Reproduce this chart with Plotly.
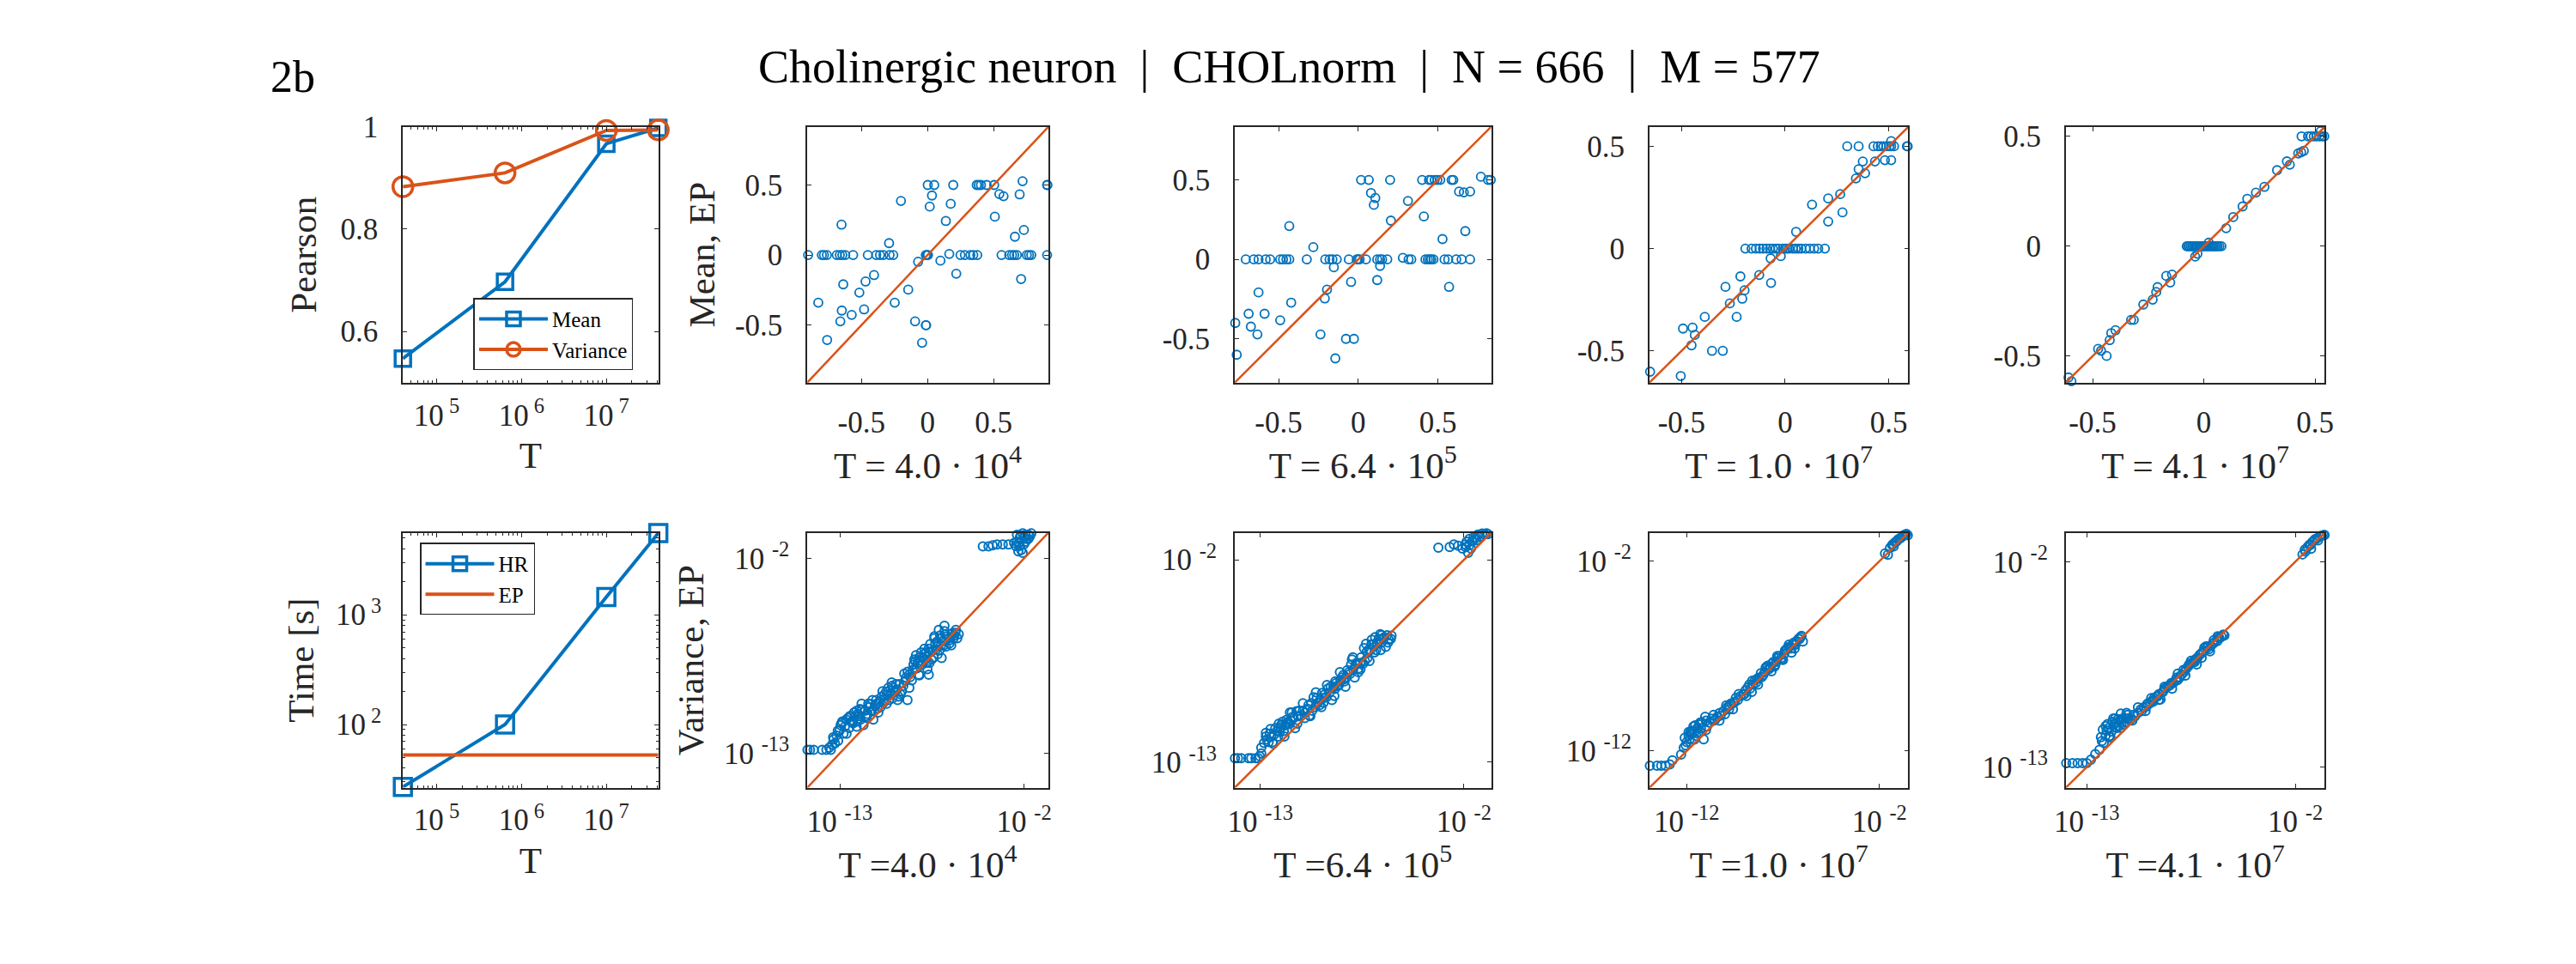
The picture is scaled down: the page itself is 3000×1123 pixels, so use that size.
import plotly.graph_objects as go

# ---------------- data ----------------
T_vals = [4.0e4, 6.4e5, 1.0e7, 4.1e7]
pearson_mean = [0.547, 0.697, 0.967, 0.998]
pearson_var = [0.883, 0.910, 0.993, 0.994]
time_hr = [27, 100, 1450, 5560]
time_ep = [52.8, 52.8]

mean_titles = ["T = 4.0 · 10<sup>4</sup>", "T = 6.4 · 10<sup>5</sup>",
               "T = 1.0 · 10<sup>7</sup>", "T = 4.1 · 10<sup>7</sup>"]
var_titles = ["T =4.0 · 10<sup>4</sup>", "T =6.4 · 10<sup>5</sup>",
              "T =1.0 · 10<sup>7</sup>", "T =4.1 · 10<sup>7</sup>"]

# axis limits of the scatter panels (mean: linear, variance: log10)
mean_lims = [[-0.91, 0.915], [-0.775, 0.834], [-0.655, 0.595], [-0.62, 0.543]]
var_lims = [[-14.94, -0.55], [-14.38, -0.53], [-13.93, -0.50], [-14.1, -0.45]]
var_ticks = [[-13, -2], [-13, -2], [-12, -2], [-13, -2]]

# ---- Mean scatter, T = 4.0e4 ----
m1_x = [-0.904, -0.800, -0.784, -0.762, -0.687, -0.664, -0.645, -0.623, -0.563, -0.452,
        -0.388, -0.360, -0.334, -0.287, -0.259, -0.013, -0.004, 0.004, 0.250, 0.283,
        0.325, 0.347, 0.377, 0.561, 0.619, 0.640, 0.657, 0.677, 0.752, 0.769,
        0.786, 0.906, 0.165,
        0.002, 0.051, 0.195, 0.373, 0.388, 0.405, 0.448, 0.505, 0.908, 0.906,
        -0.201, 0.034, 0.017, 0.176, 0.139, -0.651, -0.291, 0.510, 0.544, 0.576,
        0.698, 0.720, 0.730, 0.662,
        -0.071, 0.098, 0.218, 0.709, -0.405, -0.469, -0.638, -0.516, -0.146, -0.827,
        -0.248, -0.649, -0.480, -0.574, -0.660, -0.094, -0.013, -0.010, -0.760, -0.041]
m1_y = [0.0, 0.0, 0.0, 0.0, 0.0, 0.0, 0.0, 0.0, 0.0, 0.0,
        0.0, 0.0, 0.0, 0.0, 0.0, 0.0, 0.0, 0.0, 0.0, 0.0,
        0.0, 0.0, 0.0, 0.0, 0.0, 0.0, 0.0, 0.0, 0.0, 0.0,
        0.0, 0.0, 0.008,
        0.5, 0.5, 0.5, 0.5, 0.5, 0.5, 0.5, 0.5, 0.5, 0.5,
        0.386, 0.425, 0.346, 0.366, 0.243, 0.217, 0.085, 0.274, 0.435, 0.420,
        0.433, 0.527, 0.179, 0.131,
        -0.048, -0.040, -0.133, -0.171, -0.143, -0.189, -0.209, -0.268, -0.247, -0.340,
        -0.340, -0.396, -0.388, -0.427, -0.473, -0.473, -0.501, -0.501, -0.606, -0.626]

# ---- Mean scatter, T = 6.4e5 ----
m2_x = [-0.706, -0.656, -0.626, -0.581, -0.553, -0.490, -0.472, -0.451, -0.433, -0.323,
        -0.207, -0.180, -0.162, -0.135, -0.059, -0.009, 0.000, 0.009, 0.048, 0.119,
        0.137, 0.150, 0.182, 0.280, 0.316, 0.333, 0.422, 0.437, 0.449, 0.458,
        0.472, 0.542, 0.565, 0.615, 0.649, 0.702,
        0.018, 0.066, 0.200, 0.401, 0.444, 0.458, 0.480, 0.497, 0.515, 0.586,
        0.597, 0.815, 0.832,
        0.770, 0.080, 0.107, 0.098, 0.312, 0.633, 0.663, 0.702, 0.205, 0.412,
        -0.433, -0.282, 0.529, 0.672, -0.153, 0.137, -0.045, 0.119, 0.570, -0.196,
        -0.210, -0.626, -0.421, -0.688, -0.588, -0.490, -0.772, -0.674, -0.633, -0.237,
        -0.077, -0.027, -0.763, -0.144]
m2_y = [0.0, 0.0, 0.0, 0.0, 0.0, 0.0, 0.0, 0.0, 0.0, 0.0,
        0.0, 0.0, 0.0, 0.0, 0.0, 0.0, 0.0, 0.0, 0.0, 0.0,
        0.0, 0.0, 0.0, 0.010, 0.0, 0.0, 0.0, 0.0, 0.0, 0.0,
        0.0, 0.0, 0.0, 0.0, 0.0, 0.0,
        0.5, 0.5, 0.5, 0.5, 0.5, 0.5, 0.5, 0.5, 0.5, 0.5,
        0.5, 0.5, 0.5,
        0.520, 0.418, 0.386, 0.343, 0.368, 0.427, 0.422, 0.427, 0.244, 0.270,
        0.210, 0.077, 0.128, 0.178, -0.050, -0.041, -0.142, -0.130, -0.173, -0.190,
        -0.246, -0.208, -0.272, -0.342, -0.342, -0.383, -0.400, -0.423, -0.472, -0.472,
        -0.500, -0.500, -0.600, -0.623]

# ---- Mean scatter, T = 1.0e7 ----
m3_x = [0.300, 0.355, 0.427, 0.448, 0.462, 0.475, 0.489, 0.503, 0.512, 0.526,
        0.588, 0.592, 0.512,
        -0.192, -0.162, -0.141, -0.123, -0.107, -0.090, -0.073, -0.059, -0.045, -0.032,
        -0.011, 0.000, 0.010, 0.019, 0.037, 0.051, 0.064, 0.078, 0.099, 0.119,
        0.140, 0.160, 0.192, -0.070, -0.021,
        0.375, 0.434, 0.482, 0.512, 0.355, 0.386, 0.342, 0.266, 0.208, 0.130,
        0.277, 0.208, 0.053, -0.125, -0.216, -0.068, -0.288, -0.196, -0.207, -0.267,
        -0.234, -0.388, -0.493, -0.447, -0.436, -0.452, -0.353, -0.301, -0.652, -0.504]
m3_y = [0.5, 0.5, 0.5, 0.5, 0.5, 0.5, 0.5, 0.5, 0.5, 0.5,
        0.5, 0.5, 0.525,
        0.0, 0.0, 0.0, 0.0, 0.0, 0.0, 0.0, 0.0, 0.0, 0.0,
        0.0, 0.0, 0.0, 0.0, 0.0, 0.0, 0.0, 0.0, 0.0, 0.0,
        0.0, 0.0, 0.0, -0.048, -0.037,
        0.426, 0.426, 0.432, 0.432, 0.388, 0.368, 0.343, 0.266, 0.245, 0.215,
        0.177, 0.132, 0.082, -0.129, -0.136, -0.168, -0.187, -0.204, -0.245, -0.268,
        -0.334, -0.334, -0.391, -0.386, -0.422, -0.473, -0.500, -0.500, -0.602, -0.623]

# ---- Mean scatter, T = 4.1e7 ----
m4_x = [-0.608, -0.595, -0.475, -0.462, -0.437, -0.423, -0.416, -0.397, -0.327, -0.315,
        -0.272, -0.230, -0.214, -0.208, -0.169, -0.143, -0.151, -0.039, -0.029,
        -0.077, -0.071, -0.065, -0.058, -0.052, -0.046, -0.039, -0.033, -0.027, -0.020,
        -0.014, -0.008, -0.001, 0.005, 0.011, 0.017, 0.024, 0.030, 0.037, 0.043,
        0.049, 0.056, 0.062, 0.070, 0.079, 0.022,
        0.100, 0.132, 0.174, 0.195, 0.234, 0.272, 0.329, 0.373, 0.386, 0.424,
        0.437, 0.449, 0.525,
        0.439, 0.468, 0.481, 0.494, 0.506, 0.519, 0.532, 0.541]
m4_y = [-0.597, -0.614, -0.467, -0.475, -0.499, -0.427, -0.395, -0.382, -0.335, -0.335,
        -0.265, -0.243, -0.208, -0.186, -0.135, -0.129, -0.165, -0.047, -0.034,
        0.0, 0.0, 0.0, 0.0, 0.0, 0.0, 0.0, 0.0, 0.0, 0.0,
        0.0, 0.0, 0.0, 0.0, 0.0, 0.0, 0.0, 0.0, 0.0, 0.0,
        0.0, 0.0, 0.0, 0.0, 0.0, 0.016,
        0.082, 0.133, 0.181, 0.216, 0.244, 0.270, 0.346, 0.386, 0.371, 0.422,
        0.428, 0.434, 0.523,
        0.5, 0.5, 0.5, 0.5, 0.5, 0.5, 0.5, 0.5]

# ---- Variance scatter (log10 of values), T = 4.0e4 ----
v1_lx = [-14.93, -14.78, -14.56, -14.05, -13.80, -13.54,
         -13.63, -13.46, -13.37, -13.29, -13.12, -12.95, -12.78, -12.61, -12.44, -12.27,
         -12.10, -11.93, -11.76, -11.68, -11.59, -11.34, -11.17, -11.00, -10.83, -10.74,
         -10.57, -10.40, -10.23, -10.06, -9.89, -9.72, -9.55, -9.38, -9.21, -9.04,
         -8.96, -8.87, -8.70, -8.53, -8.45, -8.36, -8.28, -8.20, -8.03, -7.86,
         -7.77, -7.69, -7.60, -7.52, -7.35, -7.26, -7.18, -7.09, -7.01, -6.92,
         -6.84, -6.75, -6.67, -6.50, -6.33, -6.16, -6.07, -5.99, -5.90,
         -4.46, -4.12, -3.87, -3.61, -3.27, -2.93, -2.59, -2.42, -2.25, -2.08,
         -1.91, -1.74, -1.57, -2.34, -2.25, -1.91, -1.74, -2.42, -2.08, -2.17,
         -13.20, -13.00, -12.85, -12.70, -12.50, -12.35, -12.20, -12.00, -11.85, -11.50,
         -11.25, -11.10, -10.90, -10.65, -10.50, -10.30, -10.15, -9.95, -9.80, -9.60,
         -9.45, -9.30, -9.10, -8.95, -8.80, -8.60, -8.40, -8.25, -8.10, -7.95,
         -7.80, -7.65, -7.45, -7.30, -7.15, -6.95, -6.80, -6.60, -6.40, -6.25, -6.10,
         -2.50, -2.30, -2.00, -1.85, -1.65, -2.20, -2.00,
         -12.30, -12.15, -11.95, -11.80, -11.45, -11.30, -10.95, -10.80, -10.35, -10.10,
         -9.85, -9.65, -8.65, -8.50, -8.30, -8.15, -7.90, -7.70, -7.40, -7.20,
         -6.95, -6.70, -6.45, -6.20,
         -13.40, -13.10, -12.90, -12.60, -12.40, -12.00, -11.70, -11.40, -11.05, -10.70,
         -10.45, -10.20, -9.90, -9.50, -9.15, -8.85, -8.55, -8.25, -7.95, -7.65,
         -7.35, -7.05, -6.75, -6.35]
v1_ly = [-12.81, -12.81, -12.81, -12.81, -12.81, -12.81,
         -12.68, -12.52, -12.21, -12.44, -11.73, -11.41, -11.89, -11.10, -11.57, -11.26,
         -10.94, -10.78, -11.10, -10.54, -11.41, -10.78, -10.23, -11.10, -9.99, -10.47,
         -10.39, -10.15, -9.52, -9.99, -9.20, -9.52, -9.99, -9.67, -9.20, -8.72,
         -9.99, -8.57, -8.88, -8.25, -7.46, -7.93, -8.57, -7.78, -7.62, -7.30,
         -8.25, -8.57, -6.83, -7.70, -6.51, -7.14, -6.98, -6.03, -6.35, -7.62,
         -6.67, -5.80, -6.98, -6.51, -6.27, -6.35, -6.03, -6.51, -6.27,
         -1.32, -1.32, -1.26, -1.21, -1.21, -1.21, -1.13, -0.66, -0.81, -0.58,
         -0.66, -0.66, -0.58, -1.60, -1.29, -1.05, -0.89, -1.05, -1.68, -1.53,
         -12.00, -11.70, -11.20, -11.50, -11.00, -10.90, -11.30, -10.60, -10.90, -10.60,
         -10.40, -10.60, -10.30, -10.10, -9.80, -10.00, -9.70, -9.60, -9.30, -9.40,
         -9.10, -9.50, -8.90, -8.40, -8.70, -8.00, -8.20, -7.60, -8.00, -7.40,
         -7.90, -7.30, -7.20, -6.80, -7.40, -6.50, -6.90, -6.40, -6.60, -6.20, -6.20,
         -1.30, -1.10, -0.80, -0.90, -0.75, -0.70, -1.20,
         -11.20, -10.70, -11.20, -10.50, -10.90, -10.20, -10.60, -10.20, -9.70, -9.30,
         -9.90, -9.10, -8.30, -7.80, -7.90, -7.30, -7.70, -7.10, -7.60, -6.70,
         -6.90, -6.30, -6.80, -6.50,
         -12.10, -12.30, -11.30, -11.90, -10.90, -11.50, -10.20, -11.00, -10.00, -10.70,
         -9.50, -10.20, -9.00, -9.80, -8.50, -9.30, -7.70, -8.60, -7.10, -7.90,
         -6.40, -7.20, -6.10, -6.90]

# ---- Variance scatter, T = 6.4e5 ----
v2_lx = [-14.37, -14.21, -14.03, -13.64, -13.49, -13.26, -13.11, -12.95, -13.03,
         -12.95, -12.65, -12.49, -12.34, -12.19, -12.04, -11.88, -11.73, -11.58, -11.42,
         -11.27, -11.12, -11.04, -10.81, -10.58, -10.35, -10.12, -10.04, -9.89, -9.66,
         -9.59, -9.43, -9.28, -9.13, -8.97, -8.82, -8.67, -8.51, -8.36, -8.21,
         -8.05, -7.98, -7.90, -7.75, -7.59, -7.44, -7.29, -7.21, -7.13, -6.98,
         -6.83, -6.68, -6.52, -6.37, -6.22, -6.06, -5.91,
         -3.38, -2.77, -2.54, -2.31, -2.08, -1.85, -1.70, -1.47, -1.24, -1.01,
         -0.78, -1.77, -1.62, -1.32, -1.93, -0.70,
         -12.80, -12.55, -12.40, -12.10, -11.95, -11.80, -11.65, -11.50, -11.35, -11.20,
         -10.95, -10.70, -10.45, -10.25, -10.20, -9.95, -9.75, -9.50, -9.35, -9.05,
         -8.90, -8.75, -8.60, -8.45, -8.30, -8.15, -7.85, -7.70, -7.55, -7.35,
         -7.05, -6.90, -6.75, -6.60, -6.45, -6.30, -6.10, -5.95,
         -1.90, -1.55, -1.40, -1.15, -0.90, -1.70,
         -12.70, -12.45, -12.25, -11.90, -11.60, -11.30, -10.90, -10.60, -10.40, -9.80,
         -9.55, -9.20, -8.95, -8.50, -8.10, -7.80, -7.60, -7.25, -7.00, -6.70,
         -6.45, -6.15,
         -12.70, -12.30, -12.00, -11.70, -11.40, -11.00, -10.70, -10.30, -10.00, -9.70,
         -9.40, -9.00, -8.70, -8.40, -8.00, -7.70, -7.40, -7.10, -6.80, -6.50]
v2_ly = [-12.78, -12.78, -12.78, -12.78, -12.78, -12.78, -12.78, -12.52, -12.67,
         -12.21, -11.76, -11.45, -11.91, -11.15, -11.60, -10.99, -11.30, -10.69, -10.92,
         -10.54, -11.15, -10.23, -10.46, -10.31, -10.46, -9.47, -10.00, -9.77, -9.24,
         -9.77, -9.47, -9.24, -9.62, -9.01, -8.86, -8.55, -8.25, -8.40, -8.10,
         -7.41, -7.95, -8.40, -7.64, -7.95, -7.64, -6.57, -7.34, -6.88, -6.34,
         -7.03, -6.57, -6.04, -6.27, -6.73, -6.34, -6.12,
         -1.34, -1.31, -1.16, -1.24, -1.39, -1.01, -0.86, -0.78, -0.63, -0.57,
         -0.56, -1.62, -1.39, -0.93, -1.16, -0.60,
         -11.95, -11.90, -11.60, -11.30, -11.35, -10.80, -11.00, -10.80, -10.75, -10.60,
         -10.50, -10.20, -10.10, -9.80, -10.20, -9.50, -9.60, -9.30, -9.00, -8.90,
         -8.70, -8.80, -8.40, -8.60, -8.00, -8.20, -7.70, -7.90, -7.30, -7.50,
         -6.90, -6.60, -6.90, -6.30, -6.50, -6.20, -6.50, -6.30,
         -1.30, -1.00, -0.85, -0.75, -0.60, -1.20,
         -11.60, -11.20, -11.50, -11.10, -10.90, -10.30, -10.20, -10.60, -9.90, -9.90,
         -9.50, -8.90, -8.60, -8.50, -7.70, -7.60, -7.60, -7.00, -6.60, -6.50,
         -6.10, -6.10,
         -11.40, -12.00, -10.90, -11.60, -10.30, -10.90, -9.80, -10.50, -9.20, -10.00,
         -8.80, -9.40, -8.10, -8.90, -7.30, -8.10, -6.80, -7.50, -6.20, -6.90]

# ---- Variance scatter, T = 1.0e7 ----
v3_lx = [-13.91, -13.54, -13.32, -13.10, -12.88, -12.74, -12.29, -12.15,
         -12.00, -11.85, -11.71, -11.56, -11.41, -11.26, -11.12, -11.04, -10.82, -10.53,
         -10.24, -10.01, -9.79, -9.57, -9.35, -9.06, -8.84, -8.62, -8.47, -8.25,
         -8.03, -7.88, -7.74, -7.59, -7.44, -7.29, -7.07, -6.85, -6.71, -6.56,
         -6.41, -6.19, -6.04, -5.97,
         -1.71, -1.56, -1.34, -1.19, -1.04, -0.90, -0.75, -0.60, -0.53, -1.26,
         -12.05, -11.90, -11.75, -11.60, -11.45, -11.30, -11.20, -10.95, -10.70, -10.40,
         -10.10, -9.90, -9.70, -9.45, -9.20, -8.95, -8.75, -8.55, -8.35, -8.15,
         -7.95, -7.80, -7.65, -7.50, -7.35, -7.20, -6.95, -6.80, -6.60, -6.45,
         -6.30, -6.10,
         -1.45, -1.30, -1.10, -0.95, -0.80, -0.65,
         -12.10, -11.80, -11.65, -11.50, -11.35, -11.00, -10.60, -10.30, -9.80, -9.50,
         -9.00, -8.70, -8.40, -8.10, -7.70, -7.40, -7.10, -6.90, -6.65, -6.35, -6.15,
         -11.90, -11.60, -11.30, -11.00, -10.60, -10.30, -9.95, -9.60, -9.30, -8.90,
         -8.60, -8.30, -7.90, -7.60, -7.30, -7.00, -6.70, -6.40]
v3_ly = [-12.78, -12.78, -12.78, -12.78, -12.71, -12.49, -12.19, -11.82,
         -11.53, -11.38, -10.94, -10.65, -11.09, -10.79, -11.38, -10.20, -10.50, -10.35,
         -10.13, -10.06, -9.61, -9.47, -9.32, -9.02, -8.66, -8.88, -8.29, -8.14,
         -7.99, -7.63, -7.70, -7.40, -7.55, -7.11, -7.18, -6.67, -6.52, -6.82,
         -6.37, -6.08, -5.93, -6.23,
         -1.59, -1.66, -1.15, -1.00, -0.85, -0.78, -0.63, -0.56, -0.63, -1.22,
         -11.70, -11.20, -11.10, -11.00, -10.80, -11.00, -10.50, -10.70, -10.30, -10.20,
         -9.90, -9.70, -9.50, -9.20, -9.10, -8.80, -8.50, -8.50, -8.20, -7.90,
         -7.85, -7.50, -7.60, -7.30, -7.30, -7.00, -6.90, -6.60, -6.60, -6.30,
         -6.20, -6.00,
         -1.30, -1.10, -0.95, -0.80, -0.70, -0.60,
         -11.30, -11.00, -10.70, -11.20, -10.60, -10.40, -10.40, -10.00, -9.80, -9.40,
         -9.00, -8.70, -8.40, -8.10, -7.60, -7.45, -7.10, -6.70, -6.50, -6.40, -6.10,
         -11.00, -11.40, -10.50, -10.90, -10.10, -10.40, -9.60, -9.80, -9.00, -9.10,
         -8.30, -8.50, -7.60, -7.80, -7.00, -7.20, -6.40, -6.60]

# ---- Variance scatter, T = 4.1e7 ----
v4_lx = [-14.08, -13.75, -13.48, -13.22, -13.00, -12.78, -12.55, -12.33,
         -12.25, -12.10, -11.95, -11.80, -11.65, -11.50, -11.35, -11.20, -11.05, -10.90,
         -10.68, -10.46, -10.16, -9.86, -9.56, -9.33, -9.11, -8.88, -8.66, -8.43,
         -8.21, -7.99, -7.76, -7.54, -7.31, -7.16, -6.94, -6.71, -6.56, -6.34,
         -6.11, -5.89, -5.74,
         -1.62, -1.47, -1.25, -1.10, -0.95, -0.72, -0.50, -0.46, -1.17, -0.80,
         -12.20, -12.00, -11.85, -11.70, -11.55, -11.40, -11.25, -11.10, -10.95, -10.80,
         -10.55, -10.30, -10.00, -9.70, -9.45, -9.20, -9.00, -8.75, -8.55, -8.30,
         -8.10, -7.85, -7.65, -7.40, -7.25, -7.05, -6.85, -6.65, -6.45, -6.25,
         -6.00, -5.80,
         -1.50, -1.35, -1.00, -0.85, -0.60, -1.20,
         -12.15, -11.90, -11.75, -11.60, -11.45, -11.30, -11.15, -10.85, -10.60, -10.10,
         -9.80, -9.50, -9.25, -8.95, -8.60, -8.25, -7.90, -7.60, -7.30, -6.95,
         -6.60, -6.30, -6.05,
         -12.00, -11.80, -11.50, -11.20, -10.90, -10.60, -10.30, -9.90, -9.60, -9.20,
         -8.90, -8.50, -8.20, -7.80, -7.50, -7.20, -6.80, -6.50, -6.10]
v4_ly = [-12.79, -12.79, -12.79, -12.79, -12.79, -12.60, -12.30, -12.07,
         -11.40, -11.70, -11.03, -11.33, -10.58, -10.88, -10.43, -10.13, -10.73, -10.58,
         -10.43, -10.28, -9.91, -9.76, -9.46, -9.23, -9.38, -8.79, -8.64, -8.49,
         -8.34, -8.04, -7.74, -7.44, -7.37, -7.14, -7.14, -6.54, -6.69, -6.39,
         -6.25, -6.02, -5.95,
         -1.61, -1.46, -1.09, -0.94, -0.79, -0.64, -0.57, -0.57, -1.31, -0.86,
         -11.60, -11.30, -10.90, -11.10, -10.70, -10.90, -10.50, -10.40, -10.40, -10.40,
         -10.20, -10.10, -9.80, -9.60, -9.30, -9.10, -9.00, -8.70, -8.50, -8.30,
         -8.20, -7.90, -7.60, -7.40, -7.25, -7.00, -6.80, -6.60, -6.50, -6.30,
         -6.10, -5.90,
         -1.35, -1.20, -0.85, -0.75, -0.60, -1.10,
         -11.00, -10.70, -11.40, -10.40, -10.60, -10.80, -10.60, -10.20, -10.50, -10.00,
         -9.60, -9.50, -9.20, -8.90, -8.60, -8.20, -7.80, -7.50, -7.25, -6.90,
         -6.55, -6.20, -6.05,
         -10.80, -11.40, -10.40, -10.90, -10.10, -10.50, -9.80, -10.00, -9.30, -9.40,
         -8.70, -8.80, -8.00, -8.10, -7.30, -7.50, -6.60, -6.80, -6.00]

mean_sets = [(m1_x, m1_y), (m2_x, m2_y), (m3_x, m3_y), (m4_x, m4_y)]
var_sets = [(v1_lx, v1_ly), (v2_lx, v2_ly), (v3_lx, v3_ly), (v4_lx, v4_ly)]
for a, b in mean_sets + var_sets:
    assert len(a) == len(b), (len(a), len(b))

# ---------------- styling ----------------
BLUE = "#0072BD"
ORANGE = "#D95319"
AX = "#262626"
FONT = "Liberation Serif"
W, H = 3000, 1123
TICKF = dict(family=FONT, size=35, color=AX)
TITLEF = dict(family=FONT, size=43, color=AX)


def xd(a, b):
    return [a / W, b / W]


def yd(a, b):
    return [1 - b / H, 1 - a / H]


def base_axis(**kw):
    d = dict(showline=True, linecolor=AX, linewidth=1.8, mirror="allticks",
             ticks="inside", ticklen=5, tickwidth=1.4, tickcolor=AX,
             showgrid=False, zeroline=False, tickfont=TICKF)
    d.update(kw)
    return d


fig = go.Figure()
layout = {}

col_x = [(934, 1217), (1436, 1737), (1923, 2227), (2412, 2716)]
top_y = (131, 434)
bot_y = (612, 914)
left_x = (459, 759)

# --- Pearson panel ---
minor_T = [m * 10 ** e for e in range(4, 8) for m in range(2, 10)
           if 4.0e4 < m * 10 ** e < 4.1e7]
fig.add_trace(go.Scatter(x=T_vals, y=pearson_mean, mode="lines+markers", name="Mean",
                         line=dict(color=BLUE, width=4),
                         marker=dict(symbol="square-open", size=18, color=BLUE,
                                     line=dict(width=3.5, color=BLUE)),
                         cliponaxis=False, xaxis="x", yaxis="y", legend="legend"))
fig.add_trace(go.Scatter(x=T_vals, y=pearson_var, mode="lines+markers", name="Variance",
                         line=dict(color=ORANGE, width=4),
                         marker=dict(symbol="circle-open", size=23, color=ORANGE,
                                     line=dict(width=3.5, color=ORANGE)),
                         cliponaxis=False, xaxis="x", yaxis="y", legend="legend"))
Tlog_range = [4.6019, 7.6129]
T_tickvals = [1e5, 1e6, 1e7]
T_ticktext = ["10<sup> 5</sup>", "10<sup> 6</sup>", "10<sup> 7</sup>"]
layout["xaxis"] = base_axis(type="log", range=Tlog_range, domain=xd(*left_x), anchor="y",
                            tickvals=T_tickvals, ticktext=T_ticktext, ticklabelstandoff=6,
                            minor=dict(ticks="inside", ticklen=3, tickcolor=AX, tickwidth=1,
                                       tickvals=minor_T, showgrid=False),
                            title=dict(text="T", font=TITLEF, standoff=12))
layout["yaxis"] = base_axis(range=[0.5, 1.0], domain=yd(*top_y), anchor="x",
                            tickvals=[0.6, 0.8, 1.0], ticktext=["0.6", "0.8", "1"],
                            ticklabelstandoff=20,
                            title=dict(text="Pearson", font=TITLEF, standoff=14))

# --- Time panel ---
fig.add_trace(go.Scatter(x=T_vals, y=time_hr, mode="lines+markers", name="HR",
                         line=dict(color=BLUE, width=4),
                         marker=dict(symbol="square-open", size=20, color=BLUE,
                                     line=dict(width=3.5, color=BLUE)),
                         cliponaxis=False, xaxis="x6", yaxis="y6", legend="legend2"))
fig.add_trace(go.Scatter(x=[T_vals[0], T_vals[-1]], y=time_ep, mode="lines", name="EP",
                         line=dict(color=ORANGE, width=4),
                         cliponaxis=False, xaxis="x6", yaxis="y6", legend="legend2"))
minor_time = [m * 10 ** e for e in range(1, 4) for m in range(2, 10)
              if 26.9 < m * 10 ** e < 5570]
layout["xaxis6"] = base_axis(type="log", range=Tlog_range, domain=xd(*left_x), anchor="y6",
                             tickvals=T_tickvals, ticktext=T_ticktext, ticklabelstandoff=6,
                             minor=dict(ticks="inside", ticklen=3, tickcolor=AX, tickwidth=1,
                                        tickvals=minor_T, showgrid=False),
                             title=dict(text="T", font=TITLEF, standoff=12))
layout["yaxis6"] = base_axis(type="log", range=[1.425, 3.748], domain=yd(*bot_y), anchor="x6",
                             tickvals=[100, 1000], ticktext=["10<sup> 2</sup>", "10<sup> 3</sup>"],
                             ticklabelstandoff=16,
                             minor=dict(ticks="inside", ticklen=3, tickcolor=AX, tickwidth=1,
                                        tickvals=minor_time, showgrid=False),
                             title=dict(text="Time [s]", font=TITLEF, standoff=12))

# --- Mean / Variance scatter panels ---
for i in range(4):
    xa = i + 2
    xv = i + 7
    mx, my = mean_sets[i]
    lo, hi = mean_lims[i]
    fig.add_trace(go.Scatter(x=mx, y=my, mode="markers", showlegend=False,
                             marker=dict(symbol="circle-open", size=10, color=BLUE,
                                         line=dict(width=1.8, color=BLUE)),
                             cliponaxis=False, xaxis=f"x{xa}", yaxis=f"y{xa}"))
    fig.add_trace(go.Scatter(x=[lo, hi], y=[lo, hi], mode="lines", showlegend=False,
                             line=dict(color=ORANGE, width=2.5),
                             xaxis=f"x{xa}", yaxis=f"y{xa}"))
    mt = [-0.5, 0, 0.5]
    mtt = ["-0.5", "0", "0.5"]
    layout[f"xaxis{xa}"] = base_axis(range=[lo, hi], domain=xd(*col_x[i]), anchor=f"y{xa}",
                                     tickvals=mt, ticktext=mtt, ticklabelstandoff=14,
                                     title=dict(text=mean_titles[i], font=TITLEF, standoff=10))
    yax = base_axis(range=[lo, hi], domain=yd(*top_y), anchor=f"x{xa}",
                    tickvals=mt, ticktext=mtt, ticklabelstandoff=20)
    if i == 0:
        yax["title"] = dict(text="Mean, EP", font=TITLEF, standoff=10)
    layout[f"yaxis{xa}"] = yax

    lx, ly = var_sets[i]
    vlo, vhi = var_lims[i]
    fig.add_trace(go.Scatter(x=[10 ** v for v in lx], y=[10 ** v for v in ly],
                             mode="markers", showlegend=False,
                             marker=dict(symbol="circle-open", size=10, color=BLUE,
                                         line=dict(width=2.0, color=BLUE)),
                             cliponaxis=False, xaxis=f"x{xv}", yaxis=f"y{xv}"))
    fig.add_trace(go.Scatter(x=[10 ** vlo, 10 ** vhi], y=[10 ** vlo, 10 ** vhi], mode="lines",
                             showlegend=False, line=dict(color=ORANGE, width=2.5),
                             xaxis=f"x{xv}", yaxis=f"y{xv}"))
    tv = [10 ** e for e in var_ticks[i]]
    tt = [f"10 <sup>{e}</sup>" for e in var_ticks[i]]
    layout[f"xaxis{xv}"] = base_axis(type="log", range=[vlo, vhi], domain=xd(*col_x[i]),
                                     anchor=f"y{xv}", tickvals=tv, ticktext=tt,
                                     ticklabelstandoff=8,
                                     title=dict(text=var_titles[i], font=TITLEF, standoff=12))
    yv = base_axis(type="log", range=[vlo, vhi], domain=yd(*bot_y), anchor=f"x{xv}",
                   tickvals=tv, ticktext=tt, ticklabelstandoff=12)
    if i == 0:
        yv["title"] = dict(text="Variance, EP", font=TITLEF, standoff=10)
    layout[f"yaxis{xv}"] = yv

legend_common = dict(xanchor="left", yanchor="top", bordercolor=AX, borderwidth=1.5,
                     bgcolor="white", font=dict(family=FONT, size=25, color="black"),
                     itemwidth=80, tracegroupgap=0)
layout["legend"] = dict(x=542 / W, y=1 - 334 / H, **legend_common)
layout["legend2"] = dict(x=479 / W, y=1 - 624 / H, **legend_common)

layout["annotations"] = [
    dict(text="Cholinergic neuron  |  CHOLnorm  |  N = 666  |  M = 577",
         x=1500 / W, y=1 - 60 / H, xref="paper", yref="paper", showarrow=False,
         xanchor="center", yanchor="middle", font=dict(family=FONT, size=54, color="black")),
    dict(text="2b", x=302 / W, y=1 - 72 / H, xref="paper", yref="paper", showarrow=False,
         xanchor="left", yanchor="middle", font=dict(family=FONT, size=52, color="black")),
]

fig.update_layout(width=W, height=H, margin=dict(l=0, r=0, t=0, b=0),
                  paper_bgcolor="white", plot_bgcolor="white", **layout)
fig.write_html("out.html")
